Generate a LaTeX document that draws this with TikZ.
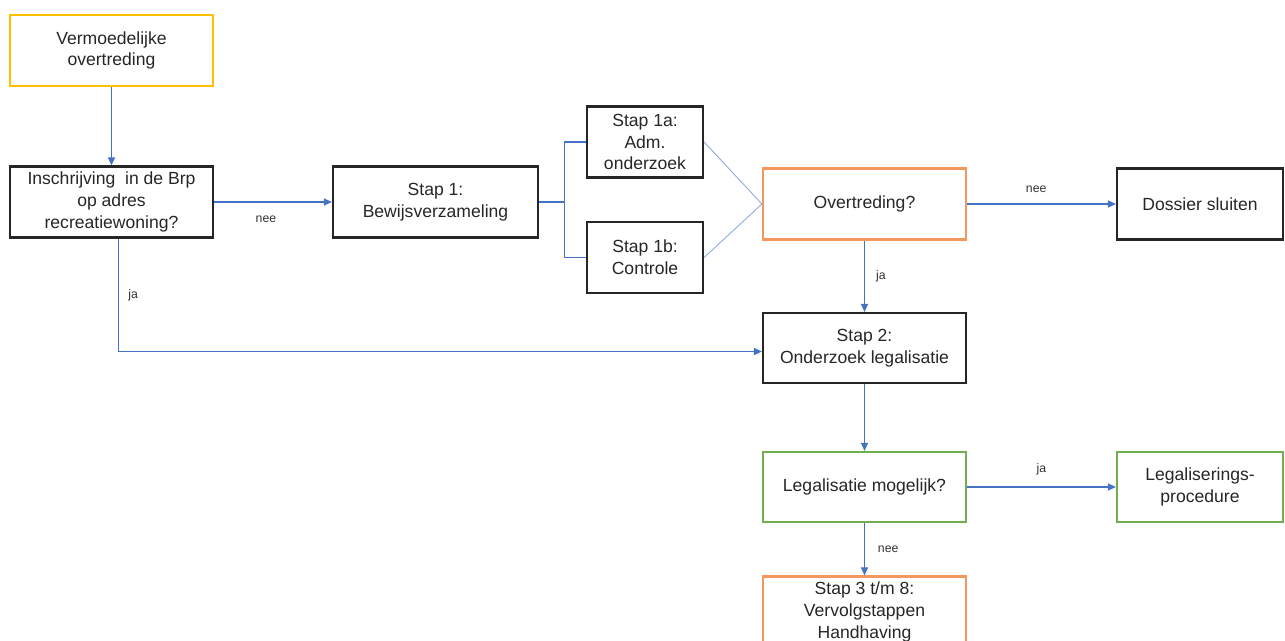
\documentclass[tikz,border=0pt]{standalone}
\usepackage{fontspec}
\setmainfont{Liberation Sans}
\usetikzlibrary{arrows.meta}

\definecolor{geel}{RGB}{255,192,0}
\definecolor{oranje}{RGB}{242,152,95}
\definecolor{groen}{RGB}{112,176,80}
\definecolor{lijnblauw}{RGB}{68,114,196}
\definecolor{dunblauw}{RGB}{140,170,225}

\tikzset{
	blok/.style={draw=black!85, line width=1.3pt, minimum width=4.06cm, minimum height=1.42cm,
		align=center, inner sep=1pt, text=black!85, font=\fontsize{10}{12.4}\selectfont},
	smalblok/.style={blok, minimum width=3.32cm},
	klein/.style={blok, minimum width=2.32cm},
	pijl/.style={draw=lijnblauw, line width=0.6pt, -{Triangle[length=4.5pt,width=4pt]}},
	lijn/.style={draw=lijnblauw, line width=0.6pt},
	dunlijn/.style={draw=dunblauw, line width=0.5pt},
	bijschrift/.style={font=\fontsize{7}{8}\selectfont, text=black!80}
}

\begin{document}
\begin{tikzpicture}[x=0.02cm, y=-0.02cm]
		\useasboundingbox (0,0) rectangle (1285,641);
		\clip (0,0) rectangle (1285,641);
		%linker kolom
		\node[blok, draw=geel] (verm) at (111.5,50.5) {Vermoedelijke\\overtreding};
		\node[blok] (insch) at (111.5,202) {Inschrijving~ in de Brp\\op adres\\recreatiewoning?};
		%stap 1 met deelstappen
		\node[blok, minimum width=4.1cm] (stap1) at (435.5,202) {Stap 1:\\Bewijsverzameling};
		\node[klein] (stap1a) at (645,142) {Stap 1a:\\Adm.\\onderzoek};
		\node[klein] (stap1b) at (645,257.5) {Stap 1b:\\Controle};
		%midden kolom
		\node[blok, draw=oranje] (overtr) at (864.5,204) {Overtreding?};
		\node[blok, minimum height=1.4cm] (stap2) at (864.5,348) {Stap 2:\\Onderzoek legalisatie};
		\node[blok, draw=groen, minimum height=1.4cm] (legal) at (864.5,487) {Legalisatie mogelijk?};
		\node[blok, draw=oranje] (stap3) at (864.5,612) {Stap 3 t/m 8:\\Vervolgstappen\\Handhaving};
		%rechter kolom
		\node[smalblok] (dossier) at (1200,204) {Dossier sluiten};
		\node[smalblok, draw=groen, minimum height=1.4cm] (legproc) at (1200,487) {Legaliserings-\\procedure};
		%pijlen
		\draw[pijl] (verm) -- (insch);
		\draw[pijl] (insch) -- (stap1) node[bijschrift, midway, below=4pt, xshift=-4pt] {nee};
		\draw[pijl] ([xshift=4pt]insch.south) |- ([yshift=-2pt]stap2.west) node[bijschrift, pos=0.25, right=2pt] {ja};
		\draw[lijn] (stap1.east) -- ++(25,0) coordinate (splits) |- (stap1a.west);
		\draw[lijn] (splits) |- (stap1b.west);
		\draw[dunlijn] (stap1a.east) -- (overtr.west);
		\draw[dunlijn] (stap1b.east) -- (overtr.west);
		\draw[pijl] (overtr) -- (dossier) node[bijschrift, midway, above=3pt, xshift=-3pt] {nee};
		\draw[pijl] (overtr) -- (stap2) node[bijschrift, midway, right=3pt] {ja};
		\draw[pijl] (stap2) -- (legal);
		\draw[pijl] (legal) -- (legproc) node[bijschrift, midway, above=3pt] {ja};
		\draw[pijl] (legal) -- (stap3) node[bijschrift, midway, right=4pt] {nee};
	\end{tikzpicture}
\end{document}
